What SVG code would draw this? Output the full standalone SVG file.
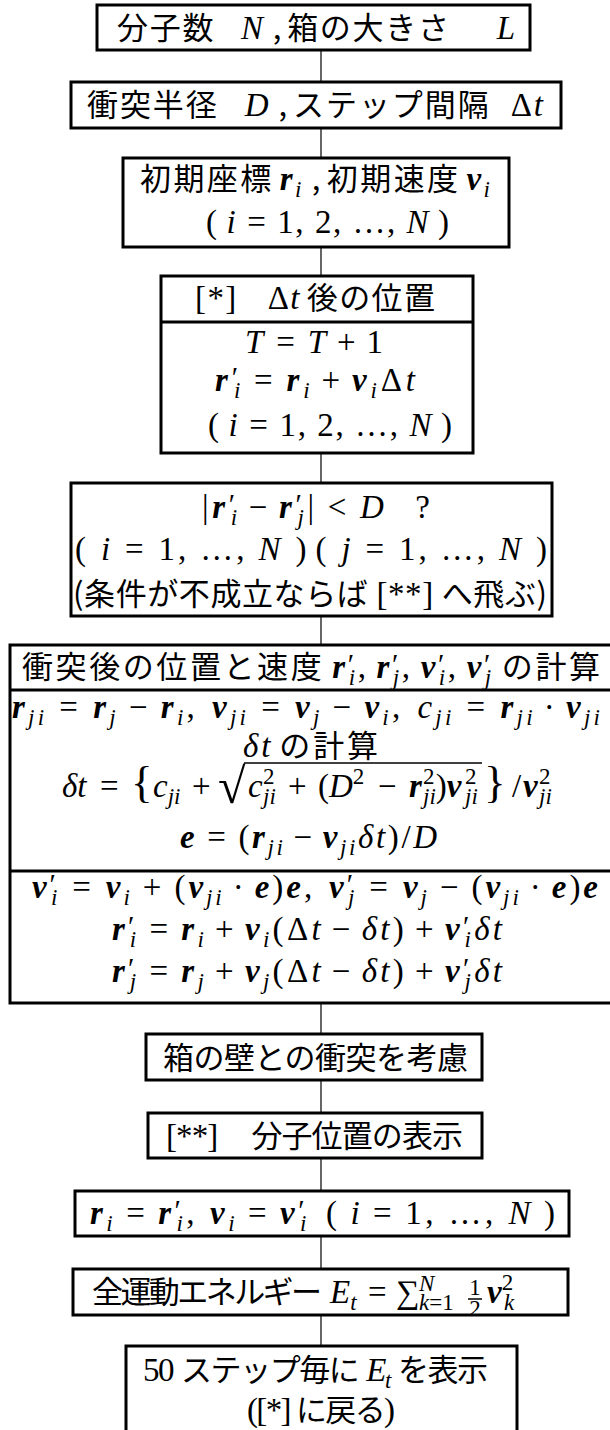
<svg xmlns="http://www.w3.org/2000/svg" width="610" height="1430" viewBox="0 0 610 1430">
<style>
.bx{fill:#fff;stroke:#000;stroke-width:3}
.dv{stroke:#000;stroke-width:3}
.cn line{stroke:#000;stroke-width:1.2}
.fl{stroke:#000;stroke-width:1.5}
text{fill:#000}
.m{font-family:"Liberation Serif",serif;font-size:33px}
.j{font-family:"Noto Sans CJK JP",sans-serif;font-size:31px;font-weight:normal;font-style:normal}
.i{font-style:italic}
.b{font-style:italic;font-weight:bold}
.s{font-size:23px}
.p{font-size:29px}
.br{font-size:45px}
.rt{font-size:50px}
</style>
<g id="connectors" class="cn">
<line x1="321" y1="50" x2="321" y2="82"/>
<line x1="321" y1="128" x2="321" y2="158"/>
<line x1="321" y1="247" x2="321" y2="276"/>
<line x1="321" y1="453" x2="321" y2="483"/>
<line x1="321" y1="616" x2="321" y2="645"/>
<line x1="321" y1="1003" x2="321" y2="1034"/>
<line x1="321" y1="1080" x2="321" y2="1113"/>
<line x1="321" y1="1158" x2="321" y2="1191"/>
<line x1="321" y1="1236" x2="321" y2="1269"/>
<line x1="321" y1="1315" x2="321" y2="1346"/>
</g>
<g id="n1"><rect class="bx" x="97" y="5" width="433" height="45"/>
<text class="m" x="117" y="39" textLength="398" lengthAdjust="spacing"><tspan class="j">分子数</tspan><tspan class="i" dx="26">N</tspan><tspan class="j" dx="8">,</tspan><tspan class="j" dx="4">箱の大きさ</tspan><tspan class="i" dx="46">L</tspan></text></g>
<g id="n2"><rect class="bx" x="71" y="82" width="490" height="46"/>
<text class="m" x="87" y="116" textLength="456" lengthAdjust="spacing"><tspan class="j">衝突半径</tspan><tspan class="i" dx="26">D</tspan><tspan class="j" dx="8">,</tspan><tspan class="j" dx="4">ステップ間隔</tspan><tspan dx="20">Δ</tspan><tspan class="i">t</tspan></text></g>
<g id="n3"><rect class="bx" x="123" y="158" width="386" height="89"/>
<text class="m" x="140" y="190" textLength="350" lengthAdjust="spacing"><tspan class="j">初期座標</tspan><tspan class="b" dx="6">r</tspan><tspan class="s i" dy="7">i</tspan><tspan class="j" dx="8" dy="-7">,</tspan><tspan class="j" dx="4">初期速度</tspan><tspan class="b" dx="6">v</tspan><tspan class="s i" dy="7">i</tspan></text>
<text class="m" x="206" y="233" textLength="243" lengthAdjust="spacing"><tspan>(</tspan><tspan class="i" dx="8">i</tspan><tspan dx="10">=</tspan><tspan dx="10">1, 2, …, </tspan><tspan class="i">N</tspan><tspan dx="8">)</tspan></text></g>
<g id="n4"><rect class="bx" x="161" y="276" width="312" height="177"/><line class="dv" x1="161" y1="322" x2="473" y2="322"/>
<text class="m" x="195" y="309" textLength="240" lengthAdjust="spacing"><tspan>[*]</tspan><tspan dx="30">Δ</tspan><tspan class="i">t</tspan><tspan class="j" dx="6">後の位置</tspan></text>
<text class="m" x="245" y="353" textLength="138" lengthAdjust="spacing"><tspan class="i">T</tspan><tspan dx="10">=</tspan><tspan class="i" dx="10">T</tspan><tspan dx="8">+</tspan><tspan dx="8">1</tspan></text>
<text class="m" x="215" y="391" textLength="200" lengthAdjust="spacing"><tspan class="b">r</tspan><tspan class="p" dy="-4">′</tspan><tspan class="s i" dx="-8" dy="11">i</tspan><tspan dx="10" dy="-7">=</tspan><tspan class="b" dx="10">r</tspan><tspan class="s i" dy="7">i</tspan><tspan dx="8" dy="-7">+</tspan><tspan class="b" dx="8">v</tspan><tspan class="s i" dy="7">i</tspan><tspan dy="-7">Δ</tspan><tspan class="i">t</tspan></text>
<text class="m" x="208" y="436" textLength="244" lengthAdjust="spacing"><tspan>(</tspan><tspan class="i" dx="8">i</tspan><tspan dx="10">=</tspan><tspan dx="10">1, 2, …, </tspan><tspan class="i">N</tspan><tspan dx="8">)</tspan></text></g>
<g id="n5"><rect class="bx" x="71" y="483" width="481" height="133"/>
<text class="m" x="202" y="518" textLength="228" lengthAdjust="spacing"><tspan>|</tspan><tspan class="b">r</tspan><tspan class="p" dy="-4">′</tspan><tspan class="s i" dx="-8" dy="11">i</tspan><tspan dx="8" dy="-7">−</tspan><tspan class="b" dx="8">r</tspan><tspan class="p" dy="-4">′</tspan><tspan class="s i" dx="-8" dy="11">j</tspan><tspan dy="-7">|</tspan><tspan dx="10">&lt;</tspan><tspan class="i" dx="10">D</tspan><tspan dx="28">?</tspan></text>
<text class="m" x="75" y="560" textLength="472" lengthAdjust="spacing"><tspan>(</tspan><tspan class="i" dx="12">i</tspan><tspan dx="12">=</tspan><tspan dx="12">1, …, </tspan><tspan class="i">N</tspan><tspan dx="12">)</tspan><tspan dx="6">(</tspan><tspan class="i" dx="12">j</tspan><tspan dx="12">=</tspan><tspan dx="12">1, …, </tspan><tspan class="i">N</tspan><tspan dx="12">)</tspan></text>
<text class="m" x="73" y="605" textLength="474" lengthAdjust="spacing"><tspan class="j">(条件が不成立ならば</tspan><tspan dx="8">[**]</tspan><tspan class="j" dx="8">へ飛ぶ)</tspan></text></g>
<g id="n6"><rect class="bx" x="10" y="645" width="605" height="358"/><line class="dv" x1="10" y1="690" x2="612" y2="690"/><line class="dv" x1="10" y1="871" x2="612" y2="871"/>
<text class="m" x="22" y="678" textLength="578" lengthAdjust="spacing"><tspan class="j">衝突後の位置と速度</tspan><tspan class="b" dx="8">r</tspan><tspan class="p" dy="-4">′</tspan><tspan class="s i" dx="-8" dy="11">i</tspan><tspan dy="-7">,</tspan><tspan class="b" dx="8">r</tspan><tspan class="p" dy="-4">′</tspan><tspan class="s i" dx="-8" dy="11">j</tspan><tspan dy="-7">,</tspan><tspan class="b" dx="8">v</tspan><tspan class="p" dy="-4">′</tspan><tspan class="s i" dx="-8" dy="11">i</tspan><tspan dy="-7">,</tspan><tspan class="b" dx="8">v</tspan><tspan class="p" dy="-4">′</tspan><tspan class="s i" dx="-8" dy="11">j</tspan><tspan class="j" dx="8" dy="-7">の計算</tspan></text>
<text class="m" x="12" y="718" textLength="588" lengthAdjust="spacing"><tspan class="b">r</tspan><tspan class="s i" dy="7">ji</tspan><tspan dx="12" dy="-7">=</tspan><tspan class="b" dx="12">r</tspan><tspan class="s i" dy="7">j</tspan><tspan dx="10" dy="-7">−</tspan><tspan class="b" dx="10">r</tspan><tspan class="s i" dy="7">i</tspan><tspan dy="-7">,</tspan><tspan class="b" dx="14">v</tspan><tspan class="s i" dy="7">ji</tspan><tspan dx="12" dy="-7">=</tspan><tspan class="b" dx="12">v</tspan><tspan class="s i" dy="7">j</tspan><tspan dx="10" dy="-7">−</tspan><tspan class="b" dx="10">v</tspan><tspan class="s i" dy="7">i</tspan><tspan dy="-7">,</tspan><tspan class="i" dx="14">c</tspan><tspan class="s i" dy="7">ji</tspan><tspan dx="12" dy="-7">=</tspan><tspan class="b" dx="12">r</tspan><tspan class="s i" dy="7">ji</tspan><tspan dx="8" dy="-7">·</tspan><tspan class="b" dx="8">v</tspan><tspan class="s i" dy="7">ji</tspan></text>
<text class="m" x="243" y="757" textLength="135" lengthAdjust="spacing"><tspan class="i">δt</tspan><tspan class="j" dx="6">の計算</tspan></text>
<text class="m" y="797"><tspan class="i" x="62">δt</tspan><tspan x="100">=</tspan><tspan class="br" x="131">{</tspan><tspan class="i" x="153">c</tspan><tspan class="s i" dy="7">ji</tspan><tspan x="192" dy="-7">+</tspan><tspan class="rt" x="218" dy="6">√</tspan><tspan class="i" x="248" dy="-6">c</tspan><tspan class="s" x="263" dy="-13">2</tspan><tspan class="s i" x="263" dy="20">ji</tspan><tspan x="288" dy="-7">+</tspan><tspan x="318">(</tspan><tspan class="i">D</tspan><tspan class="s" dy="-13">2</tspan><tspan x="378" dy="13">−</tspan><tspan class="b" x="409">r</tspan><tspan class="s" x="423" dy="-13">2</tspan><tspan class="s i" x="423" dy="20">ji</tspan><tspan dy="-7">)</tspan><tspan class="b">v</tspan><tspan class="s" x="465" dy="-13">2</tspan><tspan class="s i" x="465" dy="20">ji</tspan><tspan class="br" x="484" dy="-7">}</tspan><tspan x="512">/</tspan><tspan class="b" x="523">v</tspan><tspan class="s" x="539" dy="-13">2</tspan><tspan class="s i" x="539" dy="20">ji</tspan></text>
<line class="fl" x1="244" y1="763" x2="482" y2="763"/>
<text class="m" x="180" y="848" textLength="257" lengthAdjust="spacing"><tspan class="b">e</tspan><tspan dx="10">=</tspan><tspan dx="10">(</tspan><tspan class="b">r</tspan><tspan class="s i" dy="7">ji</tspan><tspan dx="8" dy="-7">−</tspan><tspan class="b" dx="8">v</tspan><tspan class="s i" dy="7">ji</tspan><tspan class="i" dy="-7">δt</tspan><tspan>)/</tspan><tspan class="i">D</tspan></text>
<text class="m" x="32" y="898" textLength="566" lengthAdjust="spacing"><tspan class="b">v</tspan><tspan class="p" dy="-4">′</tspan><tspan class="s i" dx="-8" dy="11">i</tspan><tspan dx="12" dy="-7">=</tspan><tspan class="b" dx="12">v</tspan><tspan class="s i" dy="7">i</tspan><tspan dx="10" dy="-7">+</tspan><tspan dx="10">(</tspan><tspan class="b">v</tspan><tspan class="s i" dy="7">ji</tspan><tspan dx="8" dy="-7">·</tspan><tspan class="b" dx="8">e</tspan><tspan>)</tspan><tspan class="b">e</tspan><tspan>,</tspan><tspan class="b" dx="14">v</tspan><tspan class="p" dy="-4">′</tspan><tspan class="s i" dx="-8" dy="11">j</tspan><tspan dx="12" dy="-7">=</tspan><tspan class="b" dx="12">v</tspan><tspan class="s i" dy="7">j</tspan><tspan dx="10" dy="-7">−</tspan><tspan dx="10">(</tspan><tspan class="b">v</tspan><tspan class="s i" dy="7">ji</tspan><tspan dx="8" dy="-7">·</tspan><tspan class="b" dx="8">e</tspan><tspan>)</tspan><tspan class="b">e</tspan></text>
<text class="m" x="112" y="940" textLength="390" lengthAdjust="spacing"><tspan class="b">r</tspan><tspan class="p" dy="-4">′</tspan><tspan class="s i" dx="-8" dy="11">i</tspan><tspan dx="10" dy="-7">=</tspan><tspan class="b" dx="10">r</tspan><tspan class="s i" dy="7">i</tspan><tspan dx="8" dy="-7">+</tspan><tspan class="b" dx="8">v</tspan><tspan class="s i" dy="7">i</tspan><tspan dy="-7">(Δ</tspan><tspan class="i">t</tspan><tspan dx="8">−</tspan><tspan class="i" dx="8">δt</tspan><tspan>)</tspan><tspan dx="8">+</tspan><tspan class="b" dx="8">v</tspan><tspan class="p" dy="-4">′</tspan><tspan class="s i" dx="-8" dy="11">i</tspan><tspan class="i" dy="-7">δt</tspan></text>
<text class="m" x="112" y="982" textLength="390" lengthAdjust="spacing"><tspan class="b">r</tspan><tspan class="p" dy="-4">′</tspan><tspan class="s i" dx="-8" dy="11">j</tspan><tspan dx="10" dy="-7">=</tspan><tspan class="b" dx="10">r</tspan><tspan class="s i" dy="7">j</tspan><tspan dx="8" dy="-7">+</tspan><tspan class="b" dx="8">v</tspan><tspan class="s i" dy="7">j</tspan><tspan dy="-7">(Δ</tspan><tspan class="i">t</tspan><tspan dx="8">−</tspan><tspan class="i" dx="8">δt</tspan><tspan>)</tspan><tspan dx="8">+</tspan><tspan class="b" dx="8">v</tspan><tspan class="p" dy="-4">′</tspan><tspan class="s i" dx="-8" dy="11">j</tspan><tspan class="i" dy="-7">δt</tspan></text></g>
<g id="n7"><rect class="bx" x="146" y="1034" width="336" height="46"/>
<text class="j" x="163" y="1069" textLength="305" lengthAdjust="spacing">箱の壁との衝突を考慮</text></g>
<g id="n8"><rect class="bx" x="148" y="1113" width="334" height="45"/>
<text class="m" x="166" y="1147" textLength="297" lengthAdjust="spacing"><tspan>[**]</tspan><tspan class="j" dx="34">分子位置の表示</tspan></text></g>
<g id="n9"><rect class="bx" x="75" y="1191" width="494" height="45"/>
<text class="m" x="90" y="1224" textLength="465" lengthAdjust="spacing"><tspan class="b">r</tspan><tspan class="s i" dy="7">i</tspan><tspan dx="10" dy="-7">=</tspan><tspan class="b" dx="10">r</tspan><tspan class="p" dy="-4">′</tspan><tspan class="s i" dx="-8" dy="11">i</tspan><tspan dy="-7">,</tspan><tspan class="b" dx="12">v</tspan><tspan class="s i" dy="7">i</tspan><tspan dx="10" dy="-7">=</tspan><tspan class="b" dx="10">v</tspan><tspan class="p" dy="-4">′</tspan><tspan class="s i" dx="-8" dy="11">i</tspan><tspan dx="16" dy="-7">(</tspan><tspan class="i" dx="10">i</tspan><tspan dx="10">=</tspan><tspan dx="10">1, …, </tspan><tspan class="i">N</tspan><tspan dx="10">)</tspan></text></g>
<g id="n10"><rect class="bx" x="73" y="1269" width="495" height="46"/>
<text class="j" x="92" y="1303" textLength="230" lengthAdjust="spacing">全運動エネルギー</text>
<text class="m" y="1303"><tspan class="i" x="330">E</tspan><tspan class="s i" dy="7">t</tspan><tspan x="368" dy="-7">=</tspan><tspan x="396">∑</tspan><tspan class="s i" x="419" dy="-12">N</tspan><tspan class="s" x="419" dy="19"><tspan class="i">k</tspan>=1</tspan></text>
<text class="m s" x="475" y="1295" text-anchor="middle">1</text><line class="fl" x1="468" y1="1299" x2="482" y2="1299"/><text class="m s" x="475" y="1316" text-anchor="middle">2</text>
<text class="m" y="1303"><tspan class="b" x="487">v</tspan><tspan class="s" dy="-13">2</tspan><tspan class="s i" x="504" dy="20">k</tspan></text></g>
<g id="n11"><rect class="bx" x="126" y="1346" width="391" height="100"/>
<text class="m" x="143" y="1381" textLength="345" lengthAdjust="spacing"><tspan>50</tspan><tspan class="j" dx="8">ステップ毎に</tspan><tspan class="i" dx="8">E</tspan><tspan class="s i" dy="7">t</tspan><tspan class="j" dx="8" dy="-7">を表示</tspan></text>
<text class="m" x="247" y="1421" textLength="148" lengthAdjust="spacing"><tspan>([*]</tspan><tspan class="j" dx="6">に戻る</tspan><tspan>)</tspan></text></g>
</svg>
